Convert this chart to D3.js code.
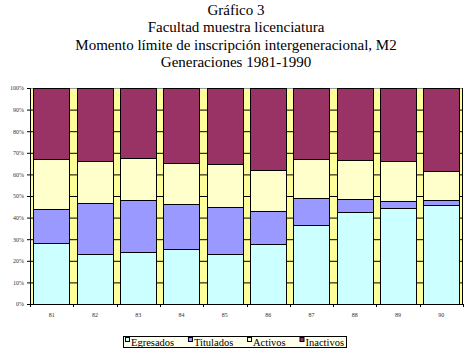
<!DOCTYPE html>
<html>
<head>
<meta charset="utf-8">
<script src="https://cdn.jsdelivr.net/npm/d3@7"></script>
<style>
  body { margin: 0; background: #fff; }
  svg { display: block; }
</style>
</head>
<body>
<div id="chart"></div>
<script>
// data (percent of each generation)
var generaciones = ["81", "82", "83", "84", "85", "86", "87", "88", "89", "90"];
var egresados = [28.1, 23.0, 23.9, 25.3, 23.0, 27.6, 36.4, 42.4, 44.3, 45.7];
var titulados = [15.7, 23.6, 24.1, 20.8, 21.9, 15.6, 12.5, 6.1, 3.2, 2.3];
var activos   = [23.2, 19.4, 19.4, 19.0, 19.8, 18.8, 18.1, 18.0, 18.5, 13.4];
var inactivos = [33.0, 34.0, 32.6, 34.9, 35.3, 38.0, 33.0, 33.5, 34.0, 38.6];
var yTicks = [0, 10, 20, 30, 40, 50, 60, 70, 80, 90, 100];
var titulos = ["Gráfico 3", "Facultad muestra licenciatura",
               "Momento límite de inscripción intergeneracional, M2",
               "Generaciones 1981-1990"];

var series = [
  {name: "Egresados", values: egresados, color: "#ccffff"},
  {name: "Titulados", values: titulados, color: "#9999ff"},
  {name: "Activos", values: activos, color: "#ffffcc"},
  {name: "Inactivos", values: inactivos, color: "#993366"}
];

var W = 474, H = 354;
var margin = {top: 88, right: 11, bottom: 50, left: 30},
    width = W - margin.left - margin.right,
    height = H - margin.top - margin.bottom;

var svg = d3.select("#chart").append("svg")
    .attr("width", W).attr("height", H);

// titles
svg.append("g").selectAll("text")
  .data(titulos).enter().append("text")
    .attr("x", 236)
    .attr("y", function(d, i) { return 15 + i * 17.3; })
    .attr("text-anchor", "middle")
    .style("font-family", "Liberation Serif, serif")
    .style("font-size", "15px")
    .text(function(d) { return d; });

var g = svg.append("g")
    .attr("transform", "translate(" + margin.left + "," + margin.top + ")");

var x = d3.scaleBand().domain(generaciones).range([0, width]).paddingInner(0.16).paddingOuter(0.08);
var y = d3.scaleLinear().domain([0, 100]).range([height, 0]);

// plot area
g.append("rect")
    .attr("width", width).attr("height", height)
    .attr("fill", "#ffff99");

// gridlines
g.append("g").selectAll("line")
  .data(yTicks.slice(1)).enter().append("line")
    .attr("x1", 0).attr("x2", width)
    .attr("y1", function(d) { return y(d) + 0.5; })
    .attr("y2", function(d) { return y(d) + 0.5; })
    .attr("stroke", function(d) { return d === 100 ? "#999" : "#000"; })
    .attr("stroke-width", 1);

g.append("line")
    .attr("x1", width - 0.5).attr("x2", width - 0.5)
    .attr("y1", 0).attr("y2", height)
    .attr("stroke", "#000");

// stacked bars
var stack = generaciones.map(function(gen, i) {
  var base = 0;
  return series.map(function(s) {
    var seg = {gen: gen, y0: base, y1: base + s.values[i], color: s.color};
    base += s.values[i];
    return seg;
  });
});

g.append("g").selectAll("g")
  .data(stack).enter().append("g")
  .selectAll("rect")
  .data(function(d) { return d; }).enter().append("rect")
    .attr("x", function(d) { return Math.round(x(d.gen)) + 0.5; })
    .attr("width", Math.round(x.bandwidth()))
    .attr("y", function(d) { return Math.round(y(Math.min(d.y1, 100))) + 0.5; })
    .attr("height", function(d) { return Math.round(y(d.y0)) - Math.round(y(Math.min(d.y1, 100))); })
    .attr("fill", function(d) { return d.color; })
    .attr("stroke", "#000")
    .attr("stroke-width", 1);

// y axis
var yAxis = g.append("g")
    .call(d3.axisLeft(y).tickValues(yTicks).tickSize(3)
      .tickFormat(function(d) { return d + "%"; }));
yAxis.select(".domain").attr("stroke", "#000");
yAxis.selectAll("text")
    .style("font-family", "Liberation Serif, serif")
    .style("font-size", "6px")
    .attr("fill", "#333");

// x axis
var xAxis = g.append("g")
    .attr("transform", "translate(0," + height + ")")
    .call(d3.axisBottom(x).tickSize(0).tickPadding(9));
xAxis.select(".domain").attr("stroke", "#000");
xAxis.selectAll("text")
    .style("font-family", "Liberation Serif, serif")
    .style("font-size", "6px")
    .attr("fill", "#333");
xAxis.selectAll(".bound")
  .data(d3.range(generaciones.length + 1)).enter().append("line")
    .attr("class", "bound")
    .attr("x1", function(d) { return Math.round(d * x.step()) + 0.5; })
    .attr("x2", function(d) { return Math.round(d * x.step()) + 0.5; })
    .attr("y1", 0).attr("y2", 3)
    .attr("stroke", "#000");

// legend: items laid out one after another, spread to fill the box
var legW = 223;
var legend = svg.append("g").attr("transform", "translate(123,336)");
legend.append("rect")
    .attr("x", 0.5).attr("y", 0.5).attr("width", legW).attr("height", 11)
    .attr("fill", "#ffffee").attr("stroke", "#000");
var items = legend.selectAll(".item")
  .data(series).enter().append("g");
items.append("rect")
    .attr("x", 0.5).attr("y", 1.5).attr("width", 4).attr("height", 4)
    .attr("fill", function(d) { return d.color; })
    .attr("stroke", "#000");
items.append("text")
    .attr("x", 6).attr("y", 10)
    .style("font-family", "Liberation Serif, serif")
    .style("font-size", "10.5px")
    .text(function(d) { return d.name; });
var widths = [];
items.select("text").each(function() { widths.push(6 + this.getComputedTextLength()); });
var gap = (legW - 4 - d3.sum(widths)) / (series.length - 1);
var pos = 2;
items.attr("transform", function(d, i) {
  var t = "translate(" + pos + ",0)";
  pos += widths[i] + gap;
  return t;
});
</script>
</body>
</html>
